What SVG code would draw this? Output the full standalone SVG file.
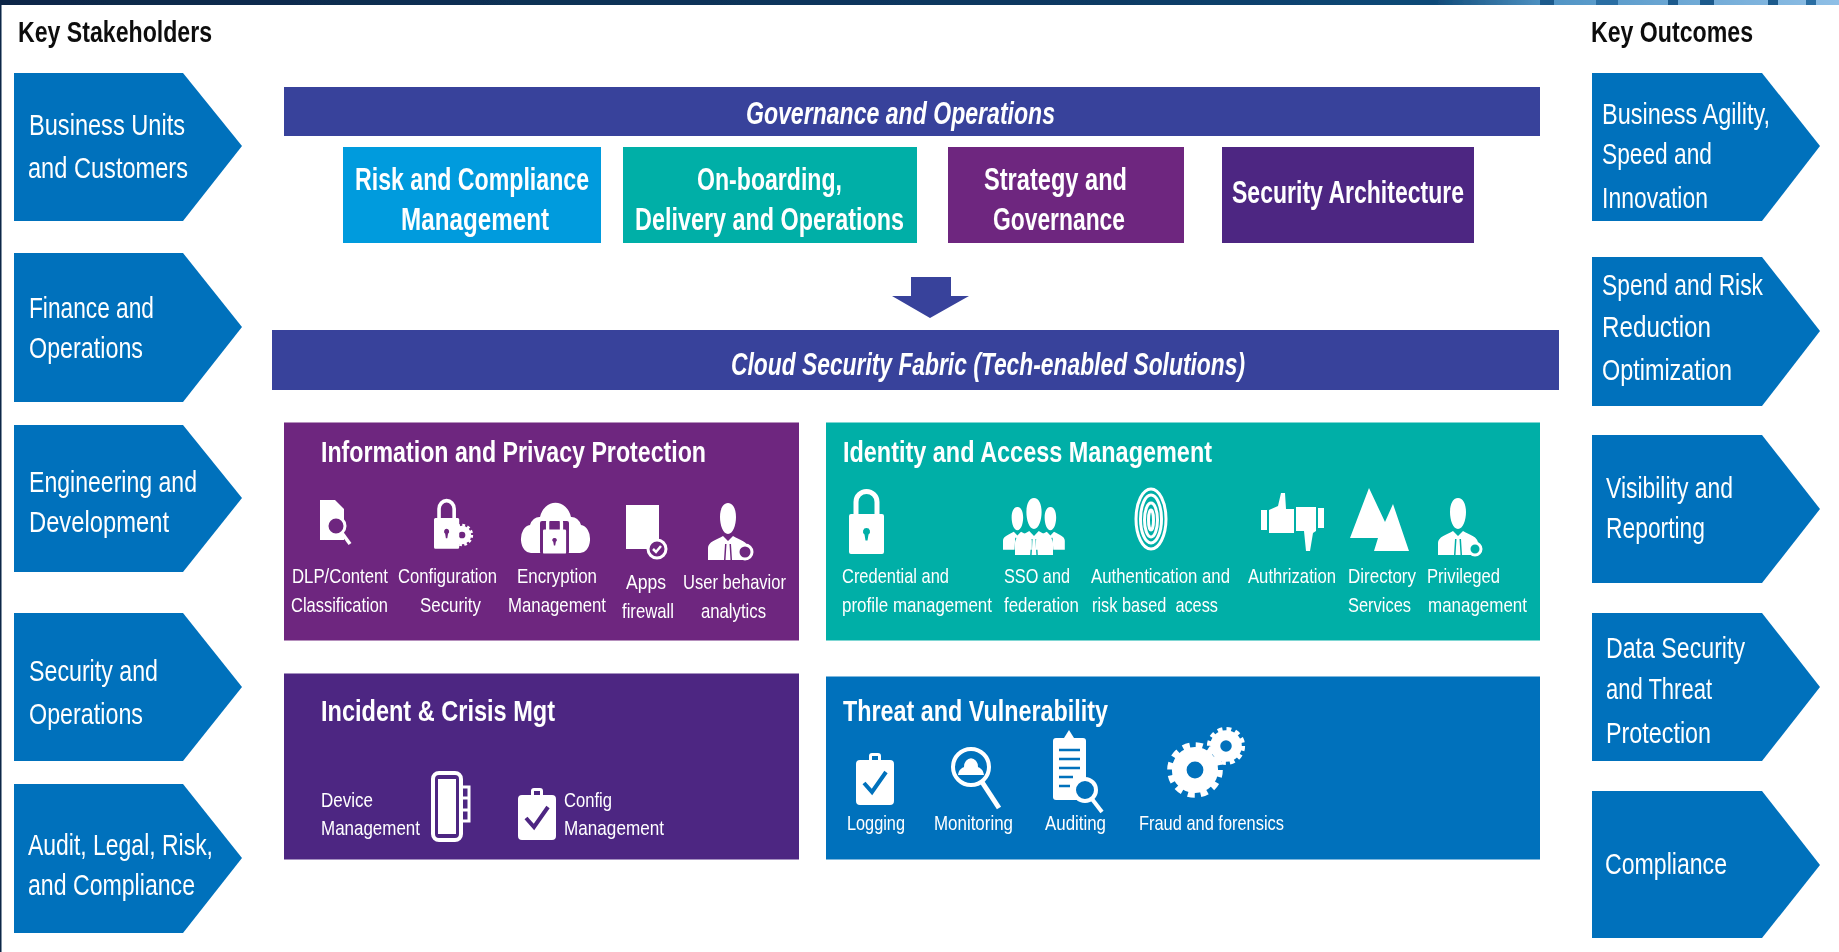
<svg xmlns="http://www.w3.org/2000/svg" xmlns:xlink="http://www.w3.org/1999/xlink" width="1839" height="952" viewBox="0 0 1839 952">
<style>
text{font-family:"Liberation Sans Narrow","Liberation Sans",Arial,sans-serif;fill:#fff}
.k{fill:#111;font-size:29px;font-weight:700}
.a{font-size:30px}
.b{font-size:31px;font-weight:700}
.i{font-size:32px;font-weight:700;font-style:italic}
.h{font-size:30px;font-weight:700}
.s{font-size:21px}
.blue{fill:#0071BC}.indigo{fill:#38429B}.cyan{fill:#059BDD}.teal{fill:#00AFA7}.purple{fill:#6E277F}.deep{fill:#4D2682}
.w{fill:#fff}
.ol{fill:none;stroke:#fff}
</style>
<defs>
<linearGradient id="band" x1="0" x2="1" y1="0" y2="0"><stop offset="0" stop-color="#0B2747"/><stop offset="0.6" stop-color="#0A3A63"/><stop offset="0.78" stop-color="#0F4A78"/><stop offset="0.84" stop-color="#4F93C4"/><stop offset="1" stop-color="#8FBFE6"/></linearGradient>
<filter id="soft" x="0" y="0" width="100%" height="100%" filterUnits="userSpaceOnUse"><feGaussianBlur stdDeviation="0.6"/></filter>
<g id="lock"><path class="ol" stroke-width="5" d="M7 28V14a10.500 10.500 0 0 1 21 0V28"/><path class="w" fill-rule="evenodd" d="M2 26h31a2 2 0 0 1 2 2v36a2 2 0 0 1-2 2H2a2 2 0 0 1-2-2V28a2 2 0 0 1 2-2zM17.500 40a3.500 3.500 0 0 0-2 6.400l1 6h2l1-6a3.500 3.500 0 0 0-2-6.400z"/></g>
<path id="person" class="w" fill-rule="evenodd" d="M20 0c5 0 8 6 8 14s-3 17-8 17-8-9-8-17 3-14 8-14zM0 57V45c0-6 8-8 15-12l5 5 5-5c7 4 15 6 15 12v12zM17 41l-1 16h1.500l1-16zM23 41l1 16h-1.500l-1-16z"/>
<g id="clip"><path class="w" fill-rule="evenodd" d="M13 9V5a3 3 0 0 1 3-3h6a3 3 0 0 1 3 3v4h9a4 4 0 0 1 4 4v37a4 4 0 0 1-4 4H4a4 4 0 0 1-4-4V13a4 4 0 0 1 4-4zM16 9h6V5h-6z"/><path d="M8 32l8 9 14-20" fill="none" stroke="currentColor" stroke-width="4"/></g>
<g id="gear"><circle class="ol" r="15" stroke-width="14"/><circle class="ol" r="23" stroke-width="7" stroke-dasharray="6.500 5.540"/></g>
</defs>
<rect width="1839" height="952" fill="#fff"/>
<g filter="url(#soft)">
<g id="top-band"><rect width="1839" height="5" fill="url(#band)"/><rect x="1540" width="14" height="5" fill="#1B5A8C"/><rect x="1596" width="22" height="5" fill="#2C6EA3"/><rect x="1668" width="10" height="5" fill="#1B5A8C"/><rect x="1700" width="14" height="5" fill="#1B5A8C"/><rect x="1768" width="10" height="5" fill="#1B5A8C"/><rect x="1806" width="10" height="5" fill="#2C6EA3"/></g>
<rect id="left-edge" width="1.500" height="952" fill="#0B2747"/>
<g id="connectors"><polygon class="indigo" points="911,277 951,277 951,296 969,296 930,318 892,296 911,296"/></g>

<g id="key-stakeholders"><text class="k" x="18" y="42" textLength="194" lengthAdjust="spacingAndGlyphs">Key Stakeholders</text></g>
<g id="stakeholder-1"><polygon class="blue" points="14,73 183,73 242,146 183,221 14,221"/><text class="a" x="29" y="135" textLength="156" lengthAdjust="spacingAndGlyphs">Business Units</text><text class="a" x="28" y="178" textLength="160" lengthAdjust="spacingAndGlyphs">and Customers</text></g>
<g id="stakeholder-2"><polygon class="blue" points="14,253 183,253 242,327 183,402 14,402"/><text class="a" x="29" y="318" textLength="125" lengthAdjust="spacingAndGlyphs">Finance and</text><text class="a" x="29" y="358" textLength="114" lengthAdjust="spacingAndGlyphs">Operations</text></g>
<g id="stakeholder-3"><polygon class="blue" points="14,425 183,425 242,498 183,572 14,572"/><text class="a" x="29" y="492" textLength="168" lengthAdjust="spacingAndGlyphs">Engineering and</text><text class="a" x="29" y="532" textLength="140" lengthAdjust="spacingAndGlyphs">Development</text></g>
<g id="stakeholder-4"><polygon class="blue" points="14,613 183,613 242,687 183,761 14,761"/><text class="a" x="29" y="681" textLength="129" lengthAdjust="spacingAndGlyphs">Security and</text><text class="a" x="29" y="724" textLength="114" lengthAdjust="spacingAndGlyphs">Operations</text></g>
<g id="stakeholder-5"><polygon class="blue" points="14,784 183,784 242,858 183,933 14,933"/><text class="a" x="28" y="855" textLength="185" lengthAdjust="spacingAndGlyphs">Audit, Legal, Risk,</text><text class="a" x="28" y="895" textLength="167" lengthAdjust="spacingAndGlyphs">and Compliance</text></g>

<g id="key-outcomes"><text class="k" x="1591" y="42" textLength="162" lengthAdjust="spacingAndGlyphs">Key Outcomes</text></g>
<g id="outcome-1"><polygon class="blue" points="1592,73 1762,73 1820,146 1762,221 1592,221"/><text class="a" x="1602" y="124" textLength="168" lengthAdjust="spacingAndGlyphs">Business Agility,</text><text class="a" x="1602" y="164" textLength="110" lengthAdjust="spacingAndGlyphs">Speed and</text><text class="a" x="1602" y="208" textLength="106" lengthAdjust="spacingAndGlyphs">Innovation</text></g>
<g id="outcome-2"><polygon class="blue" points="1592,257 1762,257 1820,331 1762,406 1592,406"/><text class="a" x="1602" y="295" textLength="161" lengthAdjust="spacingAndGlyphs">Spend and Risk</text><text class="a" x="1602" y="337" textLength="109" lengthAdjust="spacingAndGlyphs">Reduction</text><text class="a" x="1602" y="380" textLength="130" lengthAdjust="spacingAndGlyphs">Optimization</text></g>
<g id="outcome-3"><polygon class="blue" points="1592,435 1762,435 1820,509 1762,583 1592,583"/><text class="a" x="1606" y="498" textLength="127" lengthAdjust="spacingAndGlyphs">Visibility and</text><text class="a" x="1606" y="538" textLength="99" lengthAdjust="spacingAndGlyphs">Reporting</text></g>
<g id="outcome-4"><polygon class="blue" points="1592,613 1762,613 1820,687 1762,761 1592,761"/><text class="a" x="1606" y="658" textLength="139" lengthAdjust="spacingAndGlyphs">Data Security</text><text class="a" x="1606" y="699" textLength="106" lengthAdjust="spacingAndGlyphs">and Threat</text><text class="a" x="1606" y="743" textLength="105" lengthAdjust="spacingAndGlyphs">Protection</text></g>
<g id="outcome-5"><polygon class="blue" points="1592,791 1762,791 1820,865 1762,938 1592,938"/><text class="a" x="1605" y="874" textLength="122" lengthAdjust="spacingAndGlyphs">Compliance</text></g>

<g id="governance-bar"><rect class="indigo" x="284" y="87" width="1256" height="49"/><text class="i" x="746" y="124" textLength="309" lengthAdjust="spacingAndGlyphs">Governance and Operations</text></g>
<g id="risk"><rect class="cyan" x="343" y="147" width="258" height="96"/><text class="b" x="355" y="190" textLength="234" lengthAdjust="spacingAndGlyphs">Risk and Compliance</text><text class="b" x="401" y="230" textLength="148" lengthAdjust="spacingAndGlyphs">Management</text></g>
<g id="onboarding"><rect class="teal" x="623" y="147" width="294" height="96"/><text class="b" x="697" y="190" textLength="145" lengthAdjust="spacingAndGlyphs">On-boarding,</text><text class="b" x="635" y="230" textLength="269" lengthAdjust="spacingAndGlyphs">Delivery and Operations</text></g>
<g id="strategy"><rect class="purple" x="948" y="147" width="236" height="96"/><text class="b" x="984" y="190" textLength="143" lengthAdjust="spacingAndGlyphs">Strategy and</text><text class="b" x="993" y="230" textLength="132" lengthAdjust="spacingAndGlyphs">Governance</text></g>
<g id="security-architecture"><rect class="deep" x="1222" y="147" width="252" height="96"/><text class="b" x="1232" y="203" textLength="232" lengthAdjust="spacingAndGlyphs">Security Architecture</text></g>
<g id="cloud-bar"><rect class="indigo" x="272" y="330" width="1287" height="60"/><text class="i" x="731" y="375" textLength="514" lengthAdjust="spacingAndGlyphs">Cloud Security Fabric (Tech-enabled Solutions)</text></g>

<g id="information-privacy"><rect class="purple" x="284" y="422.500" width="515" height="218"/>
<text class="h" x="321" y="462" textLength="385" lengthAdjust="spacingAndGlyphs">Information and Privacy Protection</text>
<g>
<path class="w" d="M320 500h15l9 9v31h-24z"/><circle cx="336" cy="526" r="9" fill="#6E277F" stroke="#fff" stroke-width="3"/><path d="M342 533l8 11" stroke="#fff" stroke-width="3.500"/>
<use href="#lock" transform="translate(434 498) scale(0.72 0.77)"/><use href="#gear" transform="translate(462 535) scale(0.42)"/>
<path class="w" d="M532 553a10 14 0 0 1-2-28 10 12 0 0 1 10-8 16 19 0 0 1 31 0 10 12 0 0 1 10 8 10 14 0 0 1-2 28z"/><rect x="540" y="521" width="29" height="33" rx="2" fill="#6E277F"/><use href="#lock" transform="translate(543 514) scale(0.66 0.6)"/>
<rect class="w" x="626" y="505" width="33" height="44"/><circle cx="657" cy="549" r="9" fill="#6E277F" stroke="#fff" stroke-width="3"/><path d="M653 549l3 3 5-6" fill="none" stroke="#fff" stroke-width="2.500"/>
<use href="#person" transform="translate(708 503)"/><circle cx="745" cy="552" r="7" fill="#6E277F" stroke="#fff" stroke-width="3"/>
</g>
<text class="s" x="292" y="583" textLength="96" lengthAdjust="spacingAndGlyphs">DLP/Content</text><text class="s" x="291" y="612" textLength="97" lengthAdjust="spacingAndGlyphs">Classification</text>
<text class="s" x="398" y="583" textLength="99" lengthAdjust="spacingAndGlyphs">Configuration</text><text class="s" x="420" y="612" textLength="61" lengthAdjust="spacingAndGlyphs">Security</text>
<text class="s" x="517" y="583" textLength="80" lengthAdjust="spacingAndGlyphs">Encryption</text><text class="s" x="508" y="612" textLength="98" lengthAdjust="spacingAndGlyphs">Management</text>
<text class="s" x="626" y="589" textLength="40" lengthAdjust="spacingAndGlyphs">Apps</text><text class="s" x="622" y="618" textLength="52" lengthAdjust="spacingAndGlyphs">firewall</text>
<text class="s" x="683" y="589" textLength="103" lengthAdjust="spacingAndGlyphs">User behavior</text><text class="s" x="701" y="618" textLength="65" lengthAdjust="spacingAndGlyphs">analytics</text>
</g>

<g id="identity-access"><rect class="teal" x="826" y="422.500" width="714" height="218"/>
<text class="h" x="843" y="462" textLength="369" lengthAdjust="spacingAndGlyphs">Identity and Access Management</text>
<use href="#lock" transform="translate(849 488)"/>
<use href="#person" transform="translate(1003 507) scale(0.72 0.75)"/><use href="#person" transform="translate(1036 507) scale(0.72 0.75)"/><use href="#person" transform="translate(1015 498) scale(0.95 1)"/>
<g class="ol" stroke-width="3"><ellipse cx="1151" cy="519" rx="15" ry="30"/><ellipse cx="1151" cy="519" rx="10.500" ry="24"/><ellipse cx="1151" cy="520" rx="6.500" ry="17"/><ellipse cx="1151" cy="520" rx="2.500" ry="10"/></g>
<path class="w" d="M1261 510h6v20h-6zM1269 510l9-4 3-13h4l1 16h8v24h-25zM1318 508h6v20h-6zM1316 507h-20v24h8l2 20h4l3-18 3-2z"/>
<polygon class="w" points="1350,538 1369,488 1385,522 1393,504 1409,551 1374,551 1378,538"/>
<use href="#person" transform="translate(1438 498)"/><circle cx="1475" cy="549" r="6" fill="#00AFA7" stroke="#fff" stroke-width="3"/>
<text class="s" x="842" y="583" textLength="107" lengthAdjust="spacingAndGlyphs">Credential and</text><text class="s" x="842" y="612" textLength="150" lengthAdjust="spacingAndGlyphs">profile management</text>
<text class="s" x="1004" y="583" textLength="66" lengthAdjust="spacingAndGlyphs">SSO and</text><text class="s" x="1004" y="612" textLength="75" lengthAdjust="spacingAndGlyphs">federation</text>
<text class="s" x="1091" y="583" textLength="139" lengthAdjust="spacingAndGlyphs">Authentication and</text><text class="s" x="1092" y="612" textLength="126" lengthAdjust="spacingAndGlyphs" xml:space="preserve">risk based  acess</text>
<text class="s" x="1248" y="583" textLength="88" lengthAdjust="spacingAndGlyphs">Authrization</text>
<text class="s" x="1348" y="583" textLength="68" lengthAdjust="spacingAndGlyphs">Directory</text><text class="s" x="1348" y="612" textLength="63" lengthAdjust="spacingAndGlyphs">Services</text>
<text class="s" x="1427" y="583" textLength="73" lengthAdjust="spacingAndGlyphs">Privileged</text><text class="s" x="1428" y="612" textLength="99" lengthAdjust="spacingAndGlyphs">management</text>
</g>

<g id="incident-crisis"><rect class="deep" x="284" y="673.500" width="515" height="186"/>
<text class="h" x="321" y="721" textLength="234" lengthAdjust="spacingAndGlyphs">Incident &amp; Crisis Mgt</text>
<rect class="ol" x="433" y="773" width="28" height="67" rx="6" stroke-width="4"/><rect class="w" x="438" y="779" width="18" height="55"/><path class="ol" stroke-width="3" d="M461 787h8v11h-8M469 798v12h-8M469 810v11h-8"/>
<use href="#clip" color="#4D2682" transform="translate(518 786)"/>
<text class="s" x="321" y="807" textLength="52" lengthAdjust="spacingAndGlyphs">Device</text><text class="s" x="321" y="835" textLength="99" lengthAdjust="spacingAndGlyphs">Management</text>
<text class="s" x="564" y="807" textLength="48" lengthAdjust="spacingAndGlyphs">Config</text><text class="s" x="564" y="835" textLength="100" lengthAdjust="spacingAndGlyphs">Management</text>
</g>

<g id="threat-vulnerability"><rect class="blue" x="826" y="676.500" width="714" height="183"/>
<text class="h" x="843" y="721" textLength="265" lengthAdjust="spacingAndGlyphs">Threat and Vulnerability</text>
<use href="#clip" color="#0071BC" transform="translate(856 751)"/>
<circle cx="971" cy="767" r="18" fill="none" stroke="#fff" stroke-width="4"/><path class="w" d="M958 775c1-6 4-7 6-8a4 5 0 1 1 14 0c2 1 5 2 6 8z"/><path d="M982 782l17 26" stroke="#fff" stroke-width="5"/>
<rect class="w" x="1053" y="738" width="33" height="62" rx="3"/><path class="w" d="M1064 738l5-8 5 8z"/><path d="M1059 750h21M1059 759h21M1059 768h21M1059 777h14M1059 786h11" stroke="#0071BC" stroke-width="2.500"/><circle cx="1085" cy="790" r="11" fill="#0071BC" stroke="#fff" stroke-width="4"/><path d="M1092 799l10 13" stroke="#fff" stroke-width="4"/>
<use href="#gear" transform="translate(1195 770) scale(1.05)"/><use href="#gear" transform="translate(1226 746) scale(0.72)"/>
<text class="s" x="847" y="830" textLength="58" lengthAdjust="spacingAndGlyphs">Logging</text>
<text class="s" x="934" y="830" textLength="79" lengthAdjust="spacingAndGlyphs">Monitoring</text>
<text class="s" x="1045" y="830" textLength="61" lengthAdjust="spacingAndGlyphs">Auditing</text>
<text class="s" x="1139" y="830" textLength="145" lengthAdjust="spacingAndGlyphs">Fraud and forensics</text>
</g>
</g>
</svg>
